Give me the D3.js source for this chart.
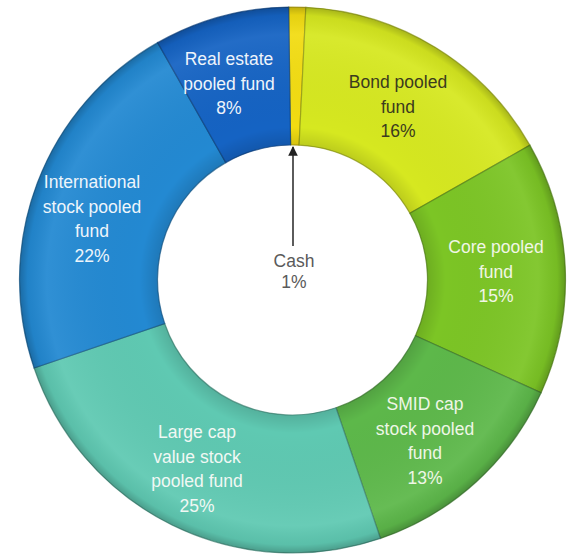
<!DOCTYPE html>
<html>
<head>
<meta charset="utf-8">
<script src="https://cdn.jsdelivr.net/npm/d3@7"></script>
<style>
  body { margin: 0; background: #fff; }
  text { font-family: "Liberation Sans", Arial, sans-serif; }
</style>
</head>
<body>
<svg id="chart" width="567" height="559"></svg>
<script>
// funds, clockwise from the top
var categories = ['Cash', 'Bond pooled fund', 'Core pooled fund', 'SMID cap stock pooled fund',
    'Large cap value stock pooled fund', 'International stock pooled fund', 'Real estate pooled fund'];
var shares = [1, 16, 15, 13, 25, 22, 8];
var labelLines = [
    ['Cash', '1%'],
    ['Bond pooled', 'fund', '16%'],
    ['Core pooled', 'fund', '15%'],
    ['SMID cap', 'stock pooled', 'fund', '13%'],
    ['Large cap', 'value stock', 'pooled fund', '25%'],
    ['International', 'stock pooled', 'fund', '22%'],
    ['Real estate', 'pooled fund', '8%']
];
var colors = ['#f2dc12', '#d6e820', '#7cc525', '#5db84a', '#5fc9b2', '#2389d2', '#1563c3'];
var textColors = ['#5a5a5a', '#3b3b1e', '#f1f6e6', '#eef6e6', '#f1f8f4', '#eef5fb', '#eef4fb'];

var width = 567, height = 559,
    cx = 292.5, cy = 280,
    outerR = 273, innerR = 135;

var svg = d3.select('#chart');
var g = svg.append('g').attr('transform', 'translate(' + cx + ',' + cy + ')');

var data = categories.map(function(c, i) { return {name: c, value: shares[i], i: i}; });

var startA = -0.8 * Math.PI / 180;
var pie = d3.pie()
    .value(function(d) { return d.value; })
    .sort(null)
    .startAngle(startA)
    .endAngle(startA + 2 * Math.PI);

var arcs = pie(data);
var arc = d3.arc().innerRadius(innerR).outerRadius(outerR);

// soft shading over the ring (darker at both rims)
var defs = svg.append('defs');
var shade = defs.append('radialGradient')
    .attr('id', 'shade')
    .attr('gradientUnits', 'userSpaceOnUse')
    .attr('cx', 0).attr('cy', 0).attr('r', outerR);
shade.append('stop').attr('offset', innerR / outerR).attr('stop-color', '#000').attr('stop-opacity', 0.12);
shade.append('stop').attr('offset', (innerR + 18) / outerR).attr('stop-color', '#000').attr('stop-opacity', 0);
shade.append('stop').attr('offset', 0.9).attr('stop-color', '#fff').attr('stop-opacity', 0.06);
shade.append('stop').attr('offset', 0.97).attr('stop-color', '#000').attr('stop-opacity', 0.05);
shade.append('stop').attr('offset', 1).attr('stop-color', '#000').attr('stop-opacity', 0.22);

g.selectAll('path.slice')
    .data(arcs)
    .enter().append('path')
    .attr('class', 'slice')
    .attr('d', arc)
    .attr('fill', function(d) { return colors[d.data.i]; })
    .attr('stroke', function(d) { return d3.color(colors[d.data.i]).darker(1.2); })
    .attr('stroke-width', 1.2)
    .attr('stroke-opacity', 0.7);

g.selectAll('path.shade')
    .data(arcs)
    .enter().append('path')
    .attr('class', 'shade')
    .attr('d', arc)
    .attr('fill', 'url(#shade)')
    .attr('pointer-events', 'none');

// label positions (centre x, first baseline, line spacing), page coordinates
var labelX = [294, 398, 496, 425, 197, 92, 229];
var labelY = [267, 88, 253, 410, 438, 188, 65];
var lineGap = 24.5;

var labels = svg.selectAll('text.lbl')
    .data(data)
    .enter().append('text')
    .attr('class', 'lbl')
    .attr('text-anchor', 'middle')
    .attr('font-size', 17.5)
    .attr('fill', function(d) { return textColors[d.i]; });

labels.each(function(d) {
    var t = d3.select(this);
    var gap = d.i === 0 ? 21 : lineGap;
    labelLines[d.i].forEach(function(line, k) {
        t.append('tspan')
            .attr('x', labelX[d.i])
            .attr('y', labelY[d.i] + k * gap)
            .text(line);
    });
});

// arrow from Cash label to the thin slice
defs.append('marker')
    .attr('id', 'arrowhead')
    .attr('viewBox', '0 0 10 10')
    .attr('refX', 9).attr('refY', 5)
    .attr('markerWidth', 6).attr('markerHeight', 6)
    .attr('orient', 'auto')
    .append('path')
    .attr('d', 'M0,0 L10,5 L0,10 z')
    .attr('fill', '#222');

var cashMid = (arcs[0].startAngle + arcs[0].endAngle) / 2;
svg.append('line')
    .attr('x1', cx + 0.5).attr('y1', cy - 34)
    .attr('x2', cx + 0.5).attr('y2', cy - innerR + 2)
    .attr('stroke', '#333')
    .attr('stroke-width', 1.6)
    .attr('marker-end', 'url(#arrowhead)');
</script>
</body>
</html>
